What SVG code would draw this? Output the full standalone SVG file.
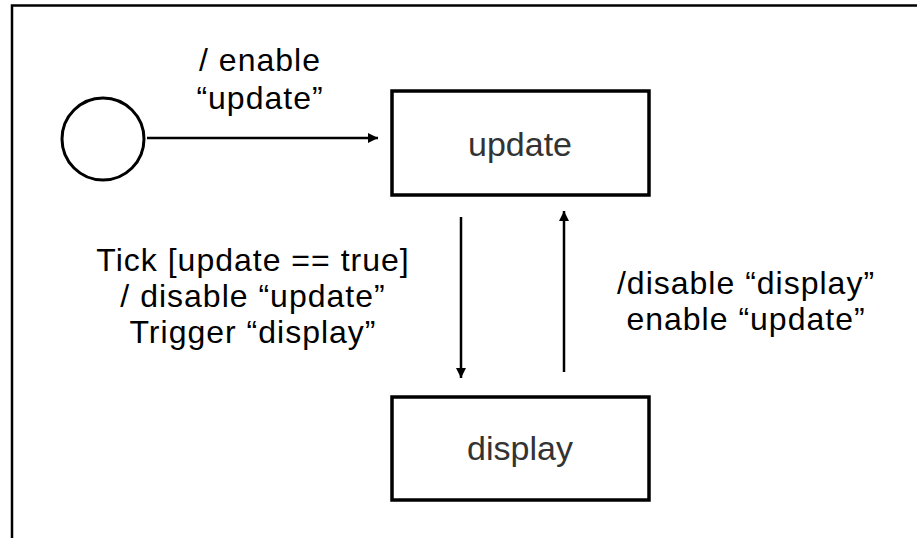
<svg xmlns="http://www.w3.org/2000/svg" width="917" height="538" viewBox="0 0 917 538">
<style>
.lbl{font-family:"Liberation Sans",Arial,sans-serif;font-size:32px;letter-spacing:1px;fill:#000;text-anchor:middle}
.nd{fill:#fff;stroke:#000;stroke-width:3.5}
.ndt{font-family:"Liberation Sans",Arial,sans-serif;font-size:34px;fill:#333;text-anchor:middle}
.edge{stroke:#000;stroke-width:2.5;fill:none}
</style>
<defs>
<marker id="ah" viewBox="0 0 10 10" refX="10" refY="5" markerWidth="10" markerHeight="10" markerUnits="userSpaceOnUse" orient="auto">
<path d="M0,0 L10,5 L0,10 z" fill="#000"/>
</marker>
</defs>
<rect width="917" height="538" fill="#fff"/>
<path d="M12,538 V5.5 H917" fill="none" stroke="#000" stroke-width="2.5"/>
<g id="start">
<circle cx="103" cy="139" r="41" fill="#fff" stroke="#000" stroke-width="3"/>
</g>
<g id="update">
<rect class="nd" x="392" y="91" width="257" height="104"/>
<text class="ndt" x="520" y="156">update</text>
</g>
<g id="display">
<rect class="nd" x="392" y="397" width="257" height="103"/>
<text class="ndt" x="520" y="460">display</text>
</g>
<g id="connectors">
<line class="edge" x1="147" y1="138" x2="378" y2="138" marker-end="url(#ah)"/>
<line class="edge" x1="461" y1="217" x2="461" y2="378" marker-end="url(#ah)"/>
<line class="edge" x1="564" y1="372" x2="564" y2="211" marker-end="url(#ah)"/>
</g>
<g id="labels">
<text class="lbl" x="260" y="71">/ enable</text>
<text class="lbl" x="260" y="109">“update”</text>
<text class="lbl" x="253" y="271">Tick [update == true]</text>
<text class="lbl" x="253" y="307">/ disable “update”</text>
<text class="lbl" x="253" y="343">Trigger “display”</text>
<text class="lbl" x="746" y="294">/disable “display”</text>
<text class="lbl" x="746" y="330">enable “update”</text>
</g>
</svg>
